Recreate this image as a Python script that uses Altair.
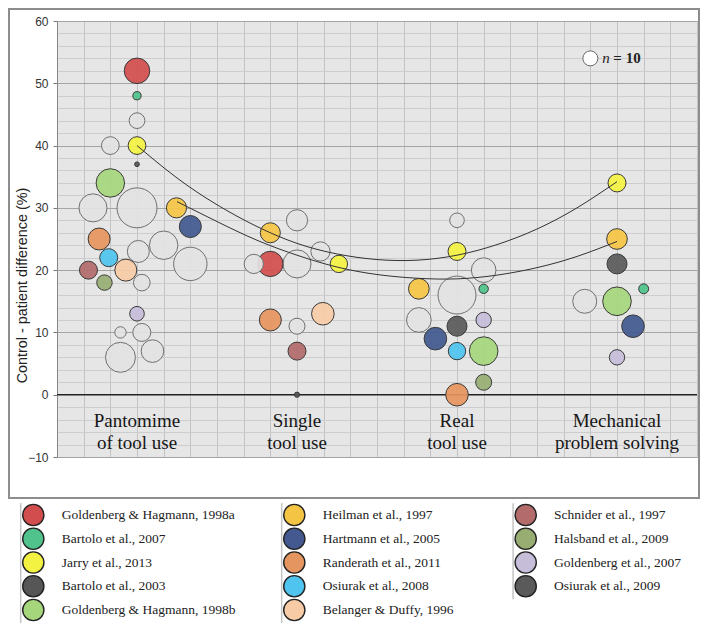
import altair as alt
import pandas as pd

# ---------------- data ----------------
studies = [
    "Goldenberg & Hagmann, 1998a", "Bartolo et al., 2007", "Jarry et al., 2013",
    "Bartolo et al., 2003", "Goldenberg & Hagmann, 1998b",
    "Heilman et al., 1997", "Hartmann et al., 2005", "Randerath et al., 2011",
    "Osiurak et al., 2008", "Belanger & Duffy, 1996",
    "Schnider et al., 1997", "Halsband et al., 2009", "Goldenberg et al., 2007",
    "Osiurak et al., 2009",
]
study_colors = [
    "#d24d4e", "#4fc38b", "#f3f243", "#565656", "#a6d67c",
    "#f4c545", "#43598f", "#e5955f", "#4fc4ee", "#f7cba6",
    "#b36b6b", "#98ad72", "#c6bdd9", "#5a5a5a",
]
other_label = "Other"
other_color = "#e2e2e2"

tasks = ["Pantomime\nof tool use", "Single\ntool use", "Real\ntool use", "Mechanical\nproblem solving"]
task_pos = [3, 9, 15, 21]

GHa, B07, JA, B03, GHb = studies[0:5]
HE, HA, RA, O08, BD = studies[5:10]
SC, HS, G07, O09 = studies[10:14]
OT = other_label

bubble_study = [
    # pantomime
    GHa, B07, OT, OT, JA, B03, GHb, OT, OT, HE, HA, RA, OT, O08, OT, OT, SC, BD, HS, OT, G07, OT, OT, OT, OT,
    # single tool use
    OT, HE, OT, OT, GHa, OT, JA, RA, OT, BD, SC, B03,
    # real tool use
    OT, JA, OT, HE, OT, B07, OT, O09, G07, HA, O08, GHb, HS, RA,
    # mechanical problem solving
    JA, HE, O09, B07, OT, GHb, HA, G07,
]
bubble_x = [
    3, 3, 3, 2, 3, 3, 2, 1.35, 3, 4.48, 5, 1.58, 4, 1.94, 3.05, 5, 1.18, 2.58, 1.78, 3.18, 3, 2.38, 3.18, 2.38, 3.58,
    9, 8, 9.88, 7.38, 8, 9, 10.57, 8, 9, 9.97, 9, 9,
    15, 15, 16, 13.57, 15, 16, 13.57, 15, 16, 14.19, 15, 16, 16, 15,
    21, 21, 21, 22, 19.79, 21, 21.6, 21,
]
bubble_y = [
    52, 48, 44, 40, 40, 37, 34, 30, 30, 30, 27, 25, 24, 22, 23, 21, 20, 20, 18, 18, 13, 10, 10, 6, 7,
    28, 26, 23, 21, 21, 21, 21, 12, 11, 13, 7, 0,
    28, 23, 20, 17, 16, 17, 12, 11, 12, 9, 7, 7, 2, 0,
    34, 25, 21, 17, 15, 15, 11, 6,
]
bubble_n = [
    29, 3, 11, 14, 14, 1, 36, 35, 71, 18, 21.5, 21.5, 36, 14.4, 21.5, 49.6, 14.4, 21.5, 10.6, 12.3, 9.5, 5.8, 14.4, 40, 22.7,
    20, 17.8, 16.5, 16.5, 28.5, 35, 13.4, 21.5, 11.4, 22.7, 14.4, 1.2,
    9.5, 14.4, 27, 19, 64, 3.9, 27, 17.8, 10.5, 22.7, 13.4, 36.4, 11.4, 22.7,
    14.4, 19, 17.8, 4.4, 25.6, 36.4, 22.7, 10.5,
]

# two fitted curves
upper_x = [3, 4.5, 6, 7.5, 9, 10.5, 12, 13.5, 15, 16.5, 18, 19.5, 21]
upper_y = [40, 34.8, 30.5, 27.0, 24.3, 22.6, 21.7, 21.6, 22.4, 24.1, 26.6, 30.0, 34.2]
lower_x = [4.5, 6, 7.5, 9, 10.5, 12, 13.5, 15, 16.5, 18, 19.5, 21]
lower_y = [31, 27.8, 24.8, 22.4, 20.5, 19.3, 18.7, 18.6, 19.2, 20.4, 22.2, 24.6]

key_x = [20]
key_y = [54]
key_n = [10]

# ---------------- tables ----------------
bub = pd.DataFrame({"study": bubble_study, "x": bubble_x, "y": bubble_y, "n": bubble_n})
curves = pd.concat([
    pd.DataFrame({"curve": "a", "x": upper_x, "y": upper_y}),
    pd.DataFrame({"curve": "b", "x": lower_x, "y": lower_y}),
])
lab = pd.DataFrame({"task": tasks, "x": task_pos})
key = pd.DataFrame({"x": key_x, "y": key_y, "n": key_n})
leg = pd.DataFrame({
    "study": studies,
    "col": [i // 5 for i in range(len(studies))],
    "row": [i % 5 for i in range(len(studies))],
})
bars = pd.DataFrame({"col": [0, 1, 2], "r0": [-0.5, -0.5, -0.5], "r1": [4.55, 4.55, 3.55]})
one = pd.DataFrame({"a": [0]})
zero = pd.DataFrame({"y": [0]})

# ---------------- scales & axes ----------------
XS = alt.Scale(domain=[0, 24], nice=False, zero=False)
YS = alt.Scale(domain=[-10, 60], nice=False, zero=False)
color_scale = alt.Scale(domain=studies + [other_label], range=study_colors + [other_color])
size_scale = alt.Scale(domain=[0, 100], range=[0, 2250], zero=True)

y_grid_vals = list(range(-10, 61, 2))
x_axis = alt.Axis(values=list(range(0, 25)), grid=True, gridColor="#c3c3c3", gridWidth=1,
                  labels=False, ticks=False, domain=False, title=None)
y_axis = alt.Axis(
    values=y_grid_vals, grid=True,
    gridColor={"condition": {"test": "datum.value % 10 === 0", "value": "#a4a4a4"}, "value": "#cdcdcd"},
    labelExpr="datum.value % 10 === 0 ? datum.label : ''",
    tickOpacity={"condition": {"test": "datum.value % 10 === 0", "value": 1}, "value": 0},
    tickSize=4, tickColor="#777", domainColor="#888",
    labelFont="Liberation Sans", labelFontSize=12, labelColor="#333", labelPadding=5,
    title="Control - patient difference (%)", titleFont="Liberation Sans",
    titleFontSize=14.4, titleFontWeight="normal", titleColor="#222",
    titleX=-35, titleY=264, titleAngle=270, titleAlign="center", titleBaseline="middle",
)

frame = alt.Chart(one).mark_rect(fillOpacity=0, stroke="#8d8d8d", strokeWidth=2).encode(
    x=alt.value(-48), x2=alt.value(642), y=alt.value(-12), y2=alt.value(477))

zero_line = alt.Chart(zero).mark_rule(color="#222", strokeWidth=1.2).encode(
    y=alt.Y("y:Q", scale=YS, axis=None))

bubbles = alt.Chart(bub).mark_circle(fillOpacity=0.93, strokeWidth=1).encode(
    x=alt.X("x:Q", scale=XS, axis=x_axis),
    y=alt.Y("y:Q", scale=YS, axis=y_axis),
    size=alt.Size("n:Q", scale=size_scale, legend=None),
    color=alt.Color("study:N", scale=color_scale, legend=None),
    stroke=alt.condition(alt.datum.study == other_label, alt.value("#707070"), alt.value("#3a3a3a")),
    order=alt.Order("n:Q", sort="descending"),
)

lines = alt.Chart(curves).mark_line(color="#333", strokeWidth=1, interpolate="natural").encode(
    x=alt.X("x:Q", scale=XS, axis=None),
    y=alt.Y("y:Q", scale=YS, axis=None),
    detail="curve:N",
)

labels = alt.Chart(lab).mark_text(font="Liberation Serif", fontSize=19, lineBreak="\n",
                                  align="center", baseline="middle", lineHeight=22,
                                  color="#161616").encode(
    x=alt.X("x:Q", scale=XS, axis=None),
    y=alt.YDatum(-4.3, scale=YS, axis=None),
    text="task:N",
)

key_pt = alt.Chart(key).mark_circle(color="white", fillOpacity=1, stroke="#666", strokeWidth=1).encode(
    x=alt.X("x:Q", scale=XS, axis=None),
    y=alt.Y("y:Q", scale=YS, axis=None),
    size=alt.Size("n:Q", scale=size_scale, legend=None),
)
key_n_txt = alt.Chart(key).mark_text(font="Liberation Serif", fontStyle="italic", fontSize=15,
                                     align="left", baseline="middle", dx=12, color="#222").encode(
    x=alt.X("x:Q", scale=XS, axis=None), y=alt.Y("y:Q", scale=YS, axis=None), text=alt.value("n"))
key_v_txt = alt.Chart(key).mark_text(font="Liberation Serif", fontWeight="bold", fontSize=15,
                                     align="left", baseline="middle", dx=23, color="#222").encode(
    x=alt.X("x:Q", scale=XS, axis=None), y=alt.Y("y:Q", scale=YS, axis=None), text=alt.value("= 10"))

# ---------------- legend (own scales, below the plot) ----------------
LX = alt.Scale(domain=[0, 1, 2], range=[-23.7, 237.3, 468.7], nice=False, zero=False)
LY = alt.Scale(domain=[0, 4], range=[494, 589], nice=False, zero=False)

leg_bars = alt.Chart(bars).mark_rule(color="#c4c4c4", strokeWidth=1.5, xOffset=-12.6).encode(
    x=alt.X("col:Q", scale=LX, axis=None),
    y=alt.Y("r0:Q", scale=LY, axis=None),
    y2="r1:Q",
)
leg_pts = alt.Chart(leg).mark_circle(size=450, fillOpacity=1, stroke="#222", strokeWidth=1.4).encode(
    x=alt.X("col:Q", scale=LX, axis=None),
    y=alt.Y("row:Q", scale=LY, axis=None),
    color=alt.Color("study:N", scale=color_scale, legend=None),
)
leg_txt = alt.Chart(leg).mark_text(font="Liberation Serif", fontSize=13.5, align="left",
                                   baseline="middle", dx=28.4, color="#222").encode(
    x=alt.X("col:Q", scale=LX, axis=None),
    y=alt.Y("row:Q", scale=LY, axis=None),
    text="study:N",
)

chart = alt.layer(
    frame, zero_line, bubbles, lines, labels, key_pt, key_n_txt, key_v_txt,
    leg_bars, leg_pts, leg_txt,
).resolve_scale(x="independent", y="independent").properties(
    width=640, height=436,
    autosize=alt.AutoSizeParams(type="none"),
    padding={"left": 49, "top": 13, "right": 3, "bottom": 167},
    background="white",
).configure_view(fill="#e6e6e6", stroke="#bdbdbd")

chart.save("out.html", embed_options={"renderer": "svg", "actions": False})
